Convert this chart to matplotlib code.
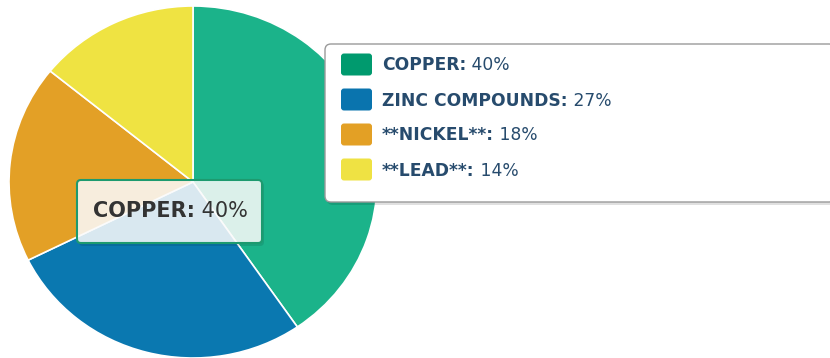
import matplotlib
matplotlib.use("Agg")
import matplotlib.pyplot as plt
from matplotlib.patches import FancyBboxPatch

# ore composition
metals = ['COPPER', 'ZINC COMPOUNDS', '**NICKEL**', '**LEAD**']
shares = [40, 27, 18, 14]
pie_colors = ['#1bb38a', '#0a78b0', '#e3a026', '#efe342']
key_colors = ['#009a6e', '#0a74ae', '#e3a025', '#efe243']
hover_idx = 0

W, H = 830, 358
fig = plt.figure(figsize=(W / 100, H / 100), dpi=100)

# pie sits in its own axes, left part of the figure
px0, py0, pw, ph = 9, 6, 368, 352
axp = fig.add_axes([px0 / W, 1 - (py0 + ph) / H, pw / W, ph / H])
axp.pie(shares, colors=pie_colors, startangle=90, counterclock=False,
        radius=1, wedgeprops=dict(edgecolor='white', linewidth=1.2))
axp.set_aspect('auto')
axp.set_xlim(-1, 1)
axp.set_ylim(-1, 1)
axp.axis('off')

# overlay in pixel units for legend and tooltip
ax = fig.add_axes([0, 0, 1, 1])
ax.set_xlim(0, W)
ax.set_ylim(H, 0)
ax.axis('off')
ax.patch.set_alpha(0)

# legend box
shadow = FancyBboxPatch((327, 46), 510, 159, boxstyle='round,pad=0,rounding_size=6',
                        fc='#000000', ec='none', alpha=0.12)
ax.add_patch(shadow)
box = FancyBboxPatch((325, 44), 510, 158, boxstyle='round,pad=0,rounding_size=6',
                     fc='white', ec='#9a9a9a', lw=1.0)
ax.add_patch(box)

text_col = '#274b6d'
row0, pitch = 64.5, 35
for i, (name, val) in enumerate(zip(metals, shares)):
    yc = row0 + i * pitch
    sw = FancyBboxPatch((341, yc - 11), 31, 22, boxstyle='round,pad=0,rounding_size=3',
                        fc=key_colors[i], ec='none')
    ax.add_patch(sw)
    t = ax.text(382, yc + 1, name + ':', fontsize=12.3, fontweight='bold',
                color=text_col, va='center', ha='left')
    ax.annotate(' %d%%' % val, xy=(1, 0.5), xycoords=t, fontsize=12.3,
                color=text_col, va='center', ha='left')

# tooltip for the hovered slice
tip_shadow = FancyBboxPatch((79, 182), 185, 64, boxstyle='round,pad=0,rounding_size=4',
                            fc='#000000', ec='none', alpha=0.10)
ax.add_patch(tip_shadow)
tip = FancyBboxPatch((77, 180), 185, 63, boxstyle='round,pad=0,rounding_size=4',
                     fc=(1, 1, 1, 0.85), ec='#1d9a6f', lw=1.5)
ax.add_patch(tip)
tt = ax.text(93, 211, metals[hover_idx] + ':', fontsize=15, fontweight='bold',
             color='#333333', va='center', ha='left')
ax.annotate(' %d%%' % shares[hover_idx], xy=(1, 0.5), xycoords=tt, fontsize=15,
            color='#333333', va='center', ha='left')

fig.savefig('out.png', dpi=100)
